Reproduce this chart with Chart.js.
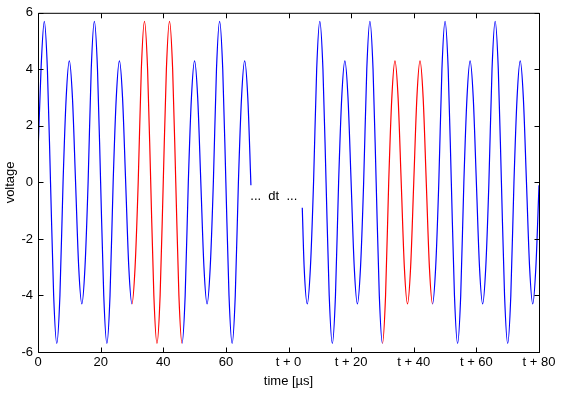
<!DOCTYPE html>
<html><head><meta charset="utf-8">
<script src="https://cdn.jsdelivr.net/npm/chart.js@4.4.0/dist/chart.umd.min.js"></script>
<style>html,body{margin:0;padding:0;background:#fff}</style>
</head><body>
<canvas id="c" width="570" height="394"></canvas>
<script>
// ---- data (time in µs, voltage in V) ----
// first window: 0 .. 68 µs
const timeA = [0,1,2,3,4,5,6,7,8,9,10,11,12,13,14,15,16,17,18,19,20,21,22,23,24,25,26,27,28,29,30,31,32,33,34,35,36,37,38,39,40,41,42,43,44,45,46,47,48,49,50,51,52,53,54,55,56,57,58,59,60,61,62,63,64,65,66,67,68];
const voltA = [1.0,4.1,5.7,4.0,0,-4.0,-5.7,-4.0,0,3.0,4.3,3.0,0,-3.0,-4.3,-3.0,
               0,4.0,5.7,4.0,0,-4.0,-5.7,-4.0,0,3.0,4.3,3.0,0,-3.0,-4.3,-3.0,
               0,4.0,5.7,4.0,0,-4.0,-5.7,-4.0,0,4.0,5.7,4.0,0,-4.0,-5.7,-4.0,
               0,3.0,4.3,3.0,0,-3.0,-4.3,-3.0,0,4.0,5.7,4.0,0,-4.0,-5.7,-4.0,
               0,3.0,4.3,3.0,-0.1];
// second window: t + 4.4 .. t + 80 µs
const timeB = [4.4,5,6,7,8,9,10,11,12,13,14,15,16,17,18,19,20,21,22,23,24,25,26,27,28,29,30,31,32,33,34,35,36,37,38,39,40,41,42,43,44,45,46,47,48,49,50,51,52,53,54,55,56,57,58,59,60,61,62,63,64,65,66,67,68,69,70,71,72,73,74,75,76,77,78,79,80];
const voltB = [-0.9,-3.0,-4.3,-3.0,
               0,4.0,5.7,4.0,0,-4.0,-5.7,-4.0,0,3.0,4.3,3.0,0,-3.0,-4.3,-3.0,
               0,4.0,5.7,4.0,0,-4.0,-5.7,-4.0,0,3.0,4.3,3.0,0,-3.0,-4.3,-3.0,
               0,3.0,4.3,3.0,0,-3.0,-4.3,-3.0,0,4.0,5.7,4.0,0,-4.0,-5.7,-4.0,
               0,3.0,4.3,3.0,0,-3.0,-4.3,-3.0,0,4.0,5.7,4.0,0,-4.0,-5.7,-4.0,
               0,3.0,4.3,3.0,0,-3.0,-4.3,-3.0,-0.1];
const windowOffset = 80;               // axis position of "t + 0"
const redRangesA = [[30,46]];          // highlighted symbol in window A
const redRangesB = [[30,46]];          // highlighted symbol in window B (relative to t)
const xTicks = [0,20,40,60,80,100,120,140,160];
const xTickLabels = ['0','20','40','60','t + 0','t + 20','t + 40','t + 60','t + 80'];
const yTicks = [-6,-4,-2,0,2,4,6];
const yTickLabels = ['-6','-4','-2','0','2','4','6'];
const gapText = '...  dt  ...';
const gapTextPos = [75.3, -0.5];

const BLUE = '#0000ff', RED = '#ff0000';
const FONT = '"Liberation Sans", Arial, Helvetica, sans-serif';

const points = timeA.map((t,i)=>({x:t,y:voltA[i]}))
  .concat([{x:(timeA[timeA.length-1]+timeB[0]+windowOffset)/2, y:null}])
  .concat(timeB.map((t,i)=>({x:t+windowOffset,y:voltB[i]})));
const redRanges = redRangesA.concat(redRangesB.map(r=>[r[0]+windowOffset, r[1]+windowOffset]));

const frame = {
  id:'frame',
  afterDraw(chart){
    const {ctx, chartArea:a, scales:{x,y}} = chart;
    ctx.save();
    ctx.strokeStyle='#000'; ctx.lineWidth=1;
    const L=a.left+0.5, R=a.right+0.5, T=a.top+0.5, B=a.bottom+0.5;
    ctx.beginPath();
    ctx.moveTo(L,T); ctx.lineTo(R,T); ctx.lineTo(R,B); ctx.lineTo(L,B); ctx.closePath();
    const tl = 5;
    xTicks.forEach(v=>{
      const p = Math.round(x.getPixelForValue(v))+0.5;
      ctx.moveTo(p,B); ctx.lineTo(p,B-tl);
      ctx.moveTo(p,T); ctx.lineTo(p,T+tl);
    });
    yTicks.forEach(v=>{
      const p = Math.round(y.getPixelForValue(v))+0.5;
      ctx.moveTo(L,p); ctx.lineTo(L+tl,p);
      ctx.moveTo(R,p); ctx.lineTo(R-tl,p);
    });
    ctx.stroke();
    ctx.fillStyle='#000';
    ctx.font='13px '+FONT;
    ctx.textAlign='center'; ctx.textBaseline='middle';
    ctx.fillText(gapText, x.getPixelForValue(gapTextPos[0]), y.getPixelForValue(gapTextPos[1]));
    ctx.restore();
  }
};

new Chart(document.getElementById('c'), {
  type:'line',
  data:{datasets:[{
    data: points,
    borderColor: BLUE,
    borderWidth: 1.2,
    pointRadius: 0,
    fill: false,
    spanGaps: false,
    cubicInterpolationMode: 'monotone',
    segment:{
      borderColor: c => redRanges.some(([s,e]) => c.p0.parsed.x >= s && c.p1.parsed.x <= e) ? RED : BLUE
    }
  }]},
  options:{
    responsive:false,
    animation:false,
    devicePixelRatio:1,
    layout:{padding:{top:10,right:31,left:0,bottom:0}},
    plugins:{legend:{display:false},tooltip:{enabled:false}},
    scales:{
      x:{
        type:'linear', min:0, max:160,
        grid:{display:false, drawTicks:false},
        border:{display:false},
        afterBuildTicks: s => { s.ticks = xTicks.map(v=>({value:v})); },
        afterFit: s => { s.height = 42; },
        ticks:{
          autoSkip:false, maxRotation:0, minRotation:0, padding:3, color:'#000',
          font:{family:FONT, size:13},
          callback: v => xTickLabels[xTicks.indexOf(v)]
        },
        title:{display:true, text:'time [µs]', color:'#000', font:{family:FONT,size:13}, padding:{top:0,bottom:5}}
      },
      y:{
        type:'linear', min:-6, max:6,
        grid:{display:false, drawTicks:false},
        border:{display:false},
        afterBuildTicks: s => { s.ticks = yTicks.map(v=>({value:v})); },
        afterFit: s => { s.width = 38; },
        ticks:{
          autoSkip:false, padding:5, color:'#000',
          font:{family:FONT, size:13},
          callback: v => yTickLabels[yTicks.indexOf(v)]
        },
        title:{display:true, text:'voltage', color:'#000', font:{family:FONT,size:13}, padding:{top:3,bottom:0}}
      }
    }
  },
  plugins:[frame]
});
</script>
</body></html>
